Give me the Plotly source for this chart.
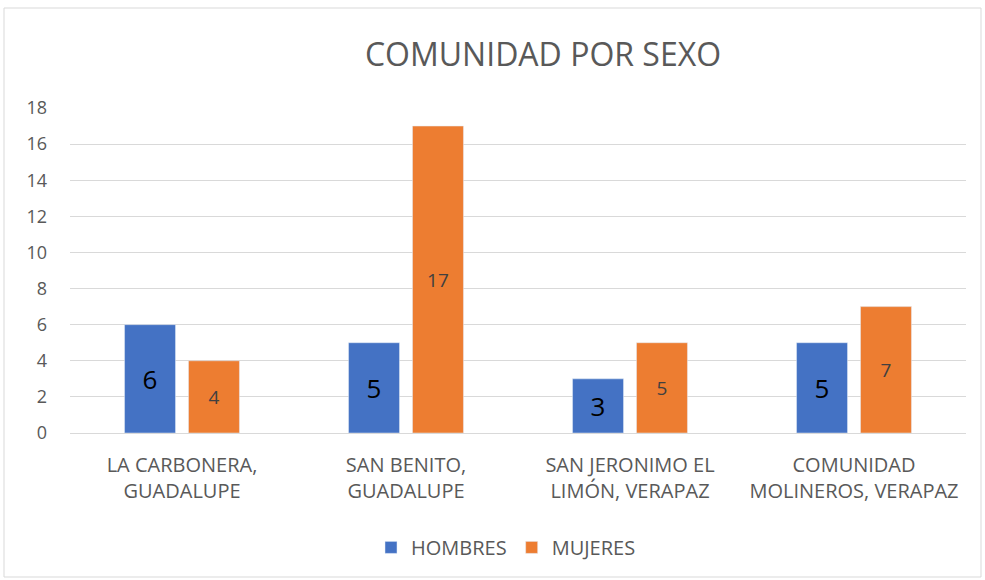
import plotly.graph_objects as go

# datos del gráfico
comunidades = ["LA CARBONERA,<br>GUADALUPE", "SAN BENITO,<br>GUADALUPE",
               "SAN JERONIMO EL<br>LIMÓN, VERAPAZ", "COMUNIDAD<br>MOLINEROS, VERAPAZ"]
hombres = [6, 5, 3, 5]
mujeres = [4, 17, 5, 7]
ticks_y = [0, 2, 4, 6, 8, 10, 12, 14, 16, 18]

FUENTE = "Open Sans"
GRIS = "#595959"

fig = go.Figure()

fig.add_trace(go.Bar(x=comunidades, y=hombres, name="HOMBRES",
                     marker_color="#4472C4",
                     text=hombres, textposition="inside", insidetextanchor="middle",
                     textfont=dict(size=26, color="#000000", family=FUENTE),
                     textangle=0))
fig.add_trace(go.Bar(x=comunidades, y=mujeres, name="MUJERES",
                     marker_color="#ED7D31",
                     text=mujeres, textposition="inside", insidetextanchor="middle",
                     textfont=dict(size=19, color="#404040", family=FUENTE),
                     textangle=0))

# marco del gráfico
W, H = 985, 580
l, r, t, b = 70, 19, 108, 147
pw, ph = W - l - r, H - t - b
fig.add_shape(type="rect", xref="paper", yref="paper",
              x0=(4 - l) / pw, x1=(981 - l) / pw,
              y0=(H - b - 577) / ph, y1=(H - b - 8) / ph,
              line=dict(color="#D9D9D9", width=1), layer="below")

fig.update_layout(
    width=W, height=H,
    margin=dict(l=l, r=r, t=t, b=b, autoexpand=False),
    paper_bgcolor="white", plot_bgcolor="white",
    title=dict(text="COMUNIDAD POR SEXO", xref="paper", x=(543 - l) / pw, xanchor="center",
               y=1 - 55 / H, yanchor="middle",
               font=dict(size=32, color=GRIS, family=FUENTE)),
    barmode="group", bargap=0.429, bargroupgap=0.203,
    font=dict(family=FUENTE, color=GRIS),
    legend=dict(orientation="h", x=(506 - l) / pw, xanchor="center", y=-0.352, yanchor="middle",
                font=dict(size=20, color=GRIS, family=FUENTE), itemwidth=30),
    xaxis=dict(tickfont=dict(size=20, color=GRIS), showline=True,
               linecolor="#D9D9D9", linewidth=1, ticks="", ticklabelstandoff=14),
    yaxis=dict(range=[0, 18], tickvals=ticks_y, showgrid=True,
               gridcolor="#D9D9D9", gridwidth=1, zeroline=False,
               tickfont=dict(size=18, color=GRIS), ticks="", ticklabelstandoff=22),
)

fig.write_html("out.html", config={"displayModeBar": False},
               post_script="document.body.style.margin='0';")
